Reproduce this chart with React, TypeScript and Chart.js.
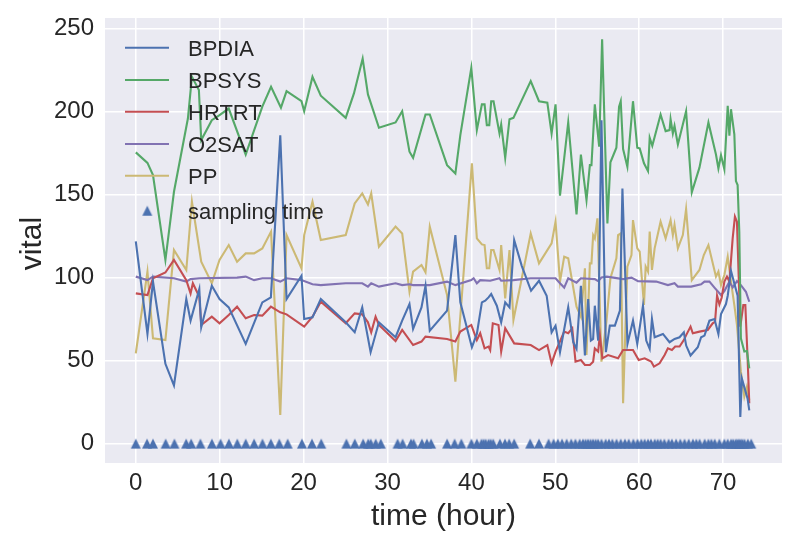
import React, { useEffect, useRef } from "react";
import { Chart, registerables } from "chart.js";

Chart.register(...registerables);

// [time (hour), value]
const BPDIA: [number, number][] = [
  [0, 121.7], [1.39, 66], [2.05, 97.5], [3.53, 48], [4.55, 35], [6.02, 87], [6.53, 74], [7.57, 93], [7.8, 70],
  [9.06, 95], [9.98, 87], [11.08, 82], [13.1, 60], [15.08, 85], [16.1, 88], [17.22, 185.6], [17.97, 87],
  [19.75, 101], [20.07, 75], [21.06, 76], [22.05, 87], [25.02, 73], [26.09, 67], [26.99, 82], [27.99, 55],
  [28.98, 73], [30.96, 64], [31.75, 74], [32.62, 84], [33.05, 69], [34.05, 82], [34.53, 95], [35.04, 68],
  [37.1, 80], [38.09, 125.5], [38.68, 85], [40.06, 58], [40.65, 66], [41.25, 85], [41.65, 86], [42.04, 88],
  [42.36, 90], [43.03, 83], [43.55, 73], [44.03, 85], [44.54, 82], [45.1, 122.5], [46.0, 107], [47.11, 92],
  [48.06, 98], [48.97, 89], [49.56, 67], [50.03, 71], [50.56, 55], [51.54, 82], [52.14, 61], [52.53, 57],
  [53.05, 95], [53.53, 53], [53.92, 87], [54.24, 62], [54.51, 63], [54.71, 83], [55.11, 62], [55.5, 194.7],
  [56.03, 55], [56.5, 71], [57.1, 71], [57.7, 80], [58.0, 153.6], [58.6, 60], [59.26, 74], [59.77, 60],
  [60.45, 83], [60.84, 62], [61.25, 57], [61.52, 75], [61.84, 64], [62.83, 66], [63.62, 61], [64.22, 63],
  [64.81, 64], [65.32, 67], [65.6, 59], [66.12, 53], [66.98, 58], [67.38, 64], [67.78, 65], [68.37, 74],
  [68.97, 75], [69.44, 66], [69.75, 78], [70.34, 84], [70.55, 89], [70.94, 104], [71.41, 95], [71.73, 89],
  [72.05, 16], [72.24, 39], [72.53, 34], [72.92, 27], [73.12, 20],
];

const BPSYS: [number, number][] = [
  [0, 175.3], [1.39, 169], [2.05, 161.6], [3.53, 110.5], [4.55, 151.6], [6.21, 195.7], [6.69, 220.8],
  [7.52, 212.8], [7.8, 182.7], [9.06, 194.7], [9.98, 197.7], [11.08, 201.7], [13.1, 174], [15.08, 202.8],
  [16.12, 214.8], [17.3, 202.2], [17.97, 212.2], [19.75, 206.1], [20.07, 200.1], [21.06, 220.8],
  [22.05, 209.4], [25.02, 196.1], [26.0, 210.8], [27.04, 231.8], [27.67, 210.2], [28.98, 190.1],
  [30.96, 193.3], [31.75, 200.1], [32.62, 175.7], [33.05, 172], [34.53, 198.1], [35.04, 198.1],
  [37.1, 167.6], [38.09, 162.6], [38.68, 185.7], [39.99, 226.2], [40.65, 188.7], [41.25, 204.2],
  [41.57, 204.2], [41.84, 191.7], [42.13, 191.7], [42.36, 206.1], [42.64, 206.1], [43.35, 186.7],
  [43.55, 192.1], [44.03, 172], [44.54, 195.3], [45.01, 196.1], [47.07, 218.2], [48.06, 206.1],
  [49.05, 205.2], [49.56, 186.7], [50.03, 204.2], [50.56, 149.2], [51.54, 193.3], [52.53, 138],
  [53.05, 174], [53.72, 146.6], [54.12, 167.6], [54.31, 167.6], [54.71, 204.2], [55.23, 178.7],
  [55.58, 243.4], [56.21, 132.5], [56.57, 169.3], [57.28, 178.1], [57.6, 202.8], [57.8, 206.1],
  [58.08, 177.3], [58.59, 166.7], [59.26, 206.1], [59.77, 178.1], [60.06, 177.7], [60.57, 168.7],
  [61.05, 164], [61.25, 184.1], [61.56, 179.3], [62.55, 198.1], [63.15, 188.1], [63.62, 188.7],
  [63.74, 195.3], [64.01, 186.7], [64.21, 191.3], [64.61, 180.1], [65.59, 200.1], [66.27, 151.2],
  [67.18, 166.1], [68.25, 193.3], [69.15, 174], [69.44, 165.6], [69.75, 173.6], [70.15, 165.2],
  [70.55, 203.4], [70.75, 185.3], [70.94, 201.3], [71.34, 186.1], [71.53, 158], [71.73, 155.6],
  [71.93, 127.6], [72.12, 63.4], [72.53, 55.4], [72.84, 55.7], [73.12, 45.3],
];

const HRTRT: [number, number][] = [
  [0, 90.4], [1.39, 89.4], [2.05, 99.5], [3.53, 103], [4.55, 110.5], [6.02, 98.4], [6.53, 90.4], [6.8, 96.5],
  [7.57, 88.4], [7.8, 71.4], [9.06, 76.4], [9.98, 72.4], [11.08, 77.4], [12.07, 82.4], [13.1, 75.4],
  [14.1, 77.4], [15.08, 77], [16.1, 82.4], [17.22, 79], [17.97, 77.8], [20.07, 70.4], [21.06, 76.4],
  [22.05, 85.4], [25.02, 72.4], [26.09, 78.4], [26.99, 77.8], [27.67, 73], [28.06, 67], [28.58, 76.4],
  [28.98, 71.4], [30.96, 61.7], [31.75, 68.4], [33.05, 59.3], [34.05, 61.4], [34.53, 64.4], [37.1, 63],
  [38.09, 61.4], [38.68, 67.4], [39.99, 71.4], [40.65, 62.3], [41.05, 66.4], [41.57, 57.3], [42.04, 58.4],
  [42.24, 56.3], [42.55, 72.4], [43.23, 71.4], [43.55, 55.4], [44.03, 69.4], [45.1, 60.3], [47.07, 59.3],
  [48.06, 56.3], [49.05, 59.3], [49.56, 48.3], [50.03, 55.4], [51.06, 67.4], [51.54, 66.4], [52.02, 69.4],
  [52.41, 49.3], [53.05, 50.3], [53.53, 47.3], [54.12, 47.3], [54.51, 49.3], [54.71, 57.3], [55.11, 55.4],
  [55.31, 65.3], [55.61, 51.3], [56.29, 53.3], [57.48, 51.3], [58.08, 56.3], [59.26, 56.3], [59.94, 50.3],
  [60.65, 51.3], [61.05, 50.3], [61.44, 49.3], [61.76, 46.3], [62.43, 48.3], [63.03, 53.3], [63.42, 57.3],
  [63.9, 56.3], [64.29, 58.4], [64.81, 58.4], [65.32, 62.3], [65.6, 65.3], [66.12, 70.4], [66.39, 66.4],
  [67.18, 67.4], [68.17, 68.4], [68.76, 72.4], [69.04, 73.4], [69.28, 89], [69.56, 83.8], [69.83, 87.8],
  [70.15, 97.5], [70.46, 100.5], [70.75, 97.5], [71.14, 123.5], [71.41, 136.6], [71.65, 133.6],
  [72.05, 70.4], [72.41, 83.4], [72.65, 83.4], [72.92, 51.3], [73.12, 24.3],
];

const O2SAT: [number, number][] = [
  [0, 100.5], [1.39, 98.4], [2.05, 100.5], [4.55, 99.5], [6.02, 97.5], [6.53, 99], [7.57, 99.5],
  [12.07, 99.9], [13.1, 100.5], [14.1, 98.4], [15.08, 99.5], [16.1, 99.5], [17.22, 97.5], [17.97, 99.5],
  [19.75, 98.4], [21.06, 95.9], [22.05, 95.4], [25.02, 96.5], [26.99, 96.5], [27.67, 94.5], [28.06, 96.5],
  [28.98, 94.5], [30.96, 96.5], [31.75, 95.4], [32.62, 95.9], [33.05, 95.4], [35.04, 95.4], [37.1, 97.5],
  [38.09, 95.4], [39.99, 98.4], [40.27, 99.5], [40.65, 96.5], [41.05, 98.4], [42.24, 98], [43.35, 99.5],
  [43.55, 98], [45.01, 98.4], [47.07, 99.5], [50.03, 99.5], [50.56, 96.5], [51.06, 93.9], [51.54, 99.5],
  [52.53, 96.9], [53.05, 99.5], [54.71, 99], [55.11, 97.8], [55.5, 100], [56.14, 100.5], [58.08, 99],
  [59.08, 99.9], [59.86, 97.8], [62.03, 97.5], [63.42, 95.4], [64.21, 96.5], [64.61, 94.5], [66.19, 94.5],
  [67.38, 95.9], [67.78, 97.5], [68.37, 97.5], [68.97, 93.9], [69.75, 89.4], [70.15, 91.8], [70.75, 97.5],
  [71.14, 93.9], [71.65, 97.8], [72.12, 95.4], [72.72, 91.4], [73.12, 85.4],
];

const PP: [number, number][] = [
  [0, 54.3], [1.39, 103.5], [2.05, 63.4], [3.53, 62.3], [4.55, 116.5], [6.02, 104.5], [6.69, 145.6],
  [7.8, 109.5], [9.06, 96.5], [9.98, 110.5], [11.08, 119.5], [12.07, 109.5], [13.1, 114.5], [14.1, 114.5],
  [15.08, 117.5], [16.12, 127.6], [17.22, 17.2], [17.97, 125.5], [19.75, 105.5], [20.07, 125.5],
  [21.06, 145.6], [22.05, 122.5], [25.02, 125.5], [26.09, 144.6], [26.99, 150.6], [27.67, 144],
  [28.06, 150.6], [28.98, 118.5], [30.96, 130.6], [31.75, 126.5], [32.62, 91.5], [33.05, 103.5],
  [34.05, 107.5], [34.53, 103.1], [35.04, 130.6], [37.1, 89.4], [38.09, 37.3], [40.06, 168.7],
  [40.65, 123.5], [41.25, 119.9], [41.57, 119.5], [41.84, 105.5], [42.13, 105.5], [42.36, 116.5],
  [42.64, 116.5], [43.35, 104.5], [43.55, 119.5], [44.03, 87.4], [44.54, 116.5], [45.01, 74.4],
  [47.07, 126.5], [48.06, 108.5], [49.56, 120.5], [50.03, 133.6], [50.56, 97.5], [51.06, 112.5],
  [51.54, 111.5], [52.53, 82.4], [53.05, 76.4], [53.53, 105.5], [53.72, 53.3], [54.12, 108.5],
  [54.31, 108.5], [54.51, 125.5], [54.71, 123.5], [55.02, 135.6], [55.5, 49.3], [56.09, 73.4],
  [56.57, 99.5], [57.28, 111.5], [57.48, 125.5], [57.8, 126.5], [58.08, 24.3], [58.59, 106.5],
  [59.08, 113.5], [59.26, 134.5], [59.77, 117.5], [60.06, 115.5], [60.57, 83.4], [60.77, 106.5],
  [61.05, 103.5], [61.25, 127.6], [61.52, 104.5], [61.84, 117.5], [62.55, 133.6], [63.15, 123.5],
  [63.74, 134.5], [64.01, 125.5], [64.21, 131.6], [64.61, 117.5], [65.2, 125.5], [65.59, 141.2],
  [66.27, 98.4], [67.18, 104.5], [67.7, 113.5], [68.25, 119.5], [69.15, 100.5], [69.44, 103.5],
  [69.75, 95.4], [70.15, 101.5], [70.55, 112.5], [70.94, 97.5], [71.34, 83.4], [71.65, 71.4],
  [72.12, 43.3], [72.53, 28.3], [72.84, 34.3], [73.12, 26.2],
];

const SAMPLING_TIMES: number[] = [
  0, 1.34, 2.05, 3.56, 4.6, 6.0, 6.6, 7.7, 9.07, 10.1, 11.1, 12.1, 13.1, 14.1, 15.1, 16.1, 17.1, 18.1,
  19.8, 21.0, 22.1, 25.1, 26.1, 27.1, 27.7, 28.0, 28.6, 29.2, 31.2, 31.8, 32.8, 33.1, 34.1, 34.7, 35.2,
  37.1, 38.0, 38.8, 40.0, 40.65, 41.2, 41.45, 41.7, 42.05, 42.3, 42.6, 43.4, 44.0, 44.5, 45.1, 47.0,
  48.05, 49.2, 49.8, 50.3, 50.8, 51.35, 51.9, 52.4, 52.9, 53.3, 53.6, 53.9, 54.2, 54.5, 54.8, 55.1, 55.5,
  56.0, 56.4, 56.8, 57.3, 57.8, 58.3, 58.75, 59.3, 59.8, 60.25, 60.65, 61.05, 61.4, 61.85, 62.2, 62.55,
  63.0, 63.5, 63.9, 64.4, 64.9, 65.4, 65.9, 66.4, 66.8, 67.2, 67.8, 68.25, 68.6, 69.0, 69.55, 70.15,
  70.55, 70.95, 71.2, 71.5, 71.7, 71.9, 72.1, 72.3, 72.55, 72.95, 73.35,
];

const SERIES_NAMES = ["BPDIA", "BPSYS", "HRTRT", "O2SAT", "PP"];
const SAMPLING_LABEL = "sampling time";
const X_TICKS = [0, 10, 20, 30, 40, 50, 60, 70];
const Y_TICKS = [0, 50, 100, 150, 200, 250];
const X_TITLE = "time (hour)";
const Y_TITLE = "vital";

const COLORS = ["#4C72B0", "#55A868", "#C44E52", "#8172B2", "#CCB974"];
const MARKER_COLOR = "#4C72B0";
const TEXT_COLOR = "#262626";
const FONT = "'Liberation Sans', Arial, sans-serif";

export default function App() {
  const ref = useRef<HTMLCanvasElement>(null);

  useEffect(() => {
    if (!ref.current) return;

    const tri = document.createElement("canvas");
    tri.width = 12;
    tri.height = 12;
    const tctx = tri.getContext("2d")!;
    tctx.fillStyle = MARKER_COLOR;
    tctx.beginPath();
    tctx.moveTo(6, 1);
    tctx.lineTo(11, 11);
    tctx.lineTo(1, 11);
    tctx.closePath();
    tctx.fill();

    const series = [BPDIA, BPSYS, HRTRT, O2SAT, PP];
    const datasets: any[] = series.map((s, i) => ({
      label: SERIES_NAMES[i],
      data: s.map(([x, y]) => ({ x, y })),
      borderColor: COLORS[i],
      backgroundColor: COLORS[i],
      borderWidth: 2.1,
      pointRadius: 0,
      tension: 0,
      fill: false,
    }));
    datasets.push({
      label: SAMPLING_LABEL,
      data: SAMPLING_TIMES.map((x) => ({ x, y: 0 })),
      showLine: false,
      pointStyle: tri,
      pointRadius: 5,
      borderWidth: 0,
      backgroundColor: MARKER_COLOR,
      borderColor: MARKER_COLOR,
    });

    const bgPlugin = {
      id: "bg",
      beforeDraw(chart: any) {
        const { ctx, chartArea: a } = chart;
        ctx.save();
        ctx.fillStyle = "#EAEAF2";
        ctx.fillRect(a.left, a.top, a.right - a.left, a.bottom - a.top);
        ctx.restore();
      },
    };

    const decoPlugin = {
      id: "deco",
      afterDraw(chart: any) {
        const { ctx, chartArea: a } = chart;
        ctx.save();
        const rows = [47.7, 80, 111.8, 144, 175.8];
        ctx.font = `22px ${FONT}`;
        ctx.textBaseline = "alphabetic";
        ctx.textAlign = "left";
        rows.forEach((y, i) => {
          ctx.strokeStyle = COLORS[i];
          ctx.lineWidth = 2.1;
          ctx.beginPath();
          ctx.moveTo(125, y);
          ctx.lineTo(169, y);
          ctx.stroke();
          ctx.fillStyle = TEXT_COLOR;
          ctx.fillText(SERIES_NAMES[i], 188, y + 8);
        });
        const sy = 210.7;
        ctx.drawImage(tri, 147.3 - 6, sy - 6);
        ctx.fillStyle = TEXT_COLOR;
        ctx.fillText(SAMPLING_LABEL, 188, sy + 8);

        ctx.font = `30px ${FONT}`;
        ctx.textAlign = "center";
        ctx.fillText(X_TITLE, (a.left + a.right) / 2, 525);
        ctx.translate(40.5, (a.top + a.bottom) / 2 + 3);
        ctx.rotate(-Math.PI / 2);
        ctx.fillText(Y_TITLE, 0, 0);
        ctx.restore();
      },
    };

    const chart = new Chart(ref.current, {
      type: "line",
      data: { datasets },
      options: {
        responsive: false,
        animation: false,
        events: [],
        layout: { padding: { top: 18, right: 18, left: 0, bottom: 0 } },
        plugins: {
          legend: { display: false },
          tooltip: { enabled: false },
        },
        scales: {
          x: {
            type: "linear",
            min: -3.67,
            max: 77.02,
            afterFit: (s: any) => {
              s.height = 87;
              s.paddingLeft = 0;
              s.paddingRight = 0;
            },
            afterBuildTicks: (s: any) => {
              s.ticks = X_TICKS.map((v) => ({ value: v }));
            },
            grid: { color: "#FFFFFF", lineWidth: 1.5, drawTicks: false },
            border: { display: false },
            ticks: {
              autoSkip: false,
              maxRotation: 0,
              padding: 6,
              color: TEXT_COLOR,
              font: { family: FONT, size: 24 },
            },
          },
          y: {
            type: "linear",
            min: -11.7,
            max: 256.2,
            afterFit: (s: any) => {
              s.width = 105;
              s.paddingTop = 0;
              s.paddingBottom = 0;
            },
            afterBuildTicks: (s: any) => {
              s.ticks = Y_TICKS.map((v) => ({ value: v }));
            },
            grid: { color: "#FFFFFF", lineWidth: 1.5, drawTicks: false },
            border: { display: false },
            ticks: {
              autoSkip: false,
              padding: 11,
              color: TEXT_COLOR,
              font: { family: FONT, size: 24 },
            },
          },
        },
      } as any,
      plugins: [bgPlugin, decoPlugin],
    });

    return () => chart.destroy();
  }, []);

  return (
    <div style={{ position: "absolute", left: 0, top: 0, width: 800, height: 550, background: "#FFFFFF" }}>
      <canvas ref={ref} width={800} height={550} style={{ display: "block" }} />
    </div>
  );
}
